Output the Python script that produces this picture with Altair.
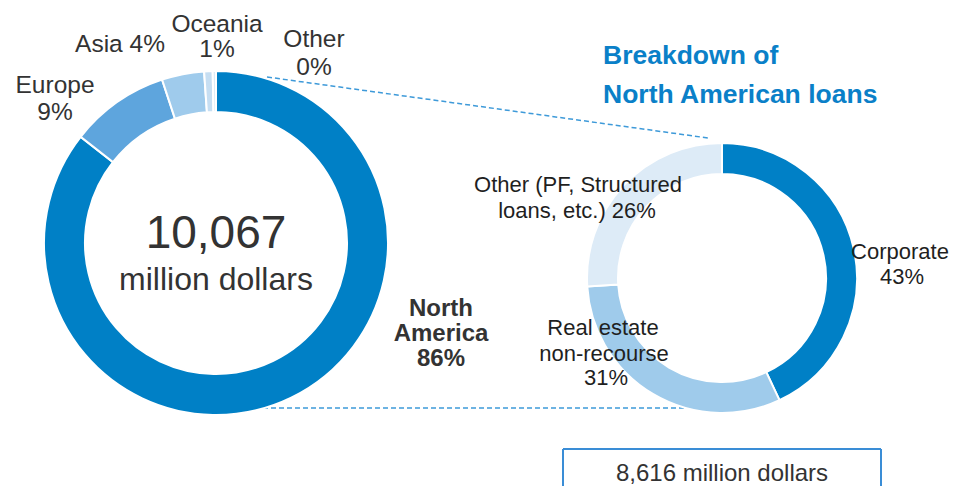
import altair as alt
import pandas as pd

# ---------------- data ----------------
regions = ["North America", "Europe", "Asia", "Oceania", "Other"]
region_values = [8616, 940, 400, 80, 31]          # million dollars, total 10,067
region_colors = ["#0080C6", "#5EA5DD", "#9FCBEC", "#C6DEF2", "#DDEBF7"]

loan_types = ["Corporate", "Real estate non-recourse", "Other (PF, Structured loans, etc.)"]
loan_values = [43, 31, 26]                         # percent of 8,616 million dollars
loan_colors = ["#0080C6", "#9FCBEB", "#DDEBF7"]

# ---------------- layout (chart pixel coords; page = chart + 8) ----------------
OFF = 8
L_CX, L_CY, L_IN, L_OUT = 216 - OFF, 243 - OFF, 131, 172
R_CX, R_CY, R_IN, R_OUT = 722 - OFF, 278 - OFF, 104, 135

left_df = pd.DataFrame({"name": regions, "value": region_values,
                        "color": region_colors, "idx": range(len(regions))})
right_df = pd.DataFrame({"name": loan_types, "value": loan_values,
                         "color": loan_colors, "idx": range(len(loan_types))})

left_donut = alt.Chart(left_df).mark_arc(
    innerRadius=L_IN, outerRadius=L_OUT, stroke="white", strokeWidth=2
).encode(
    theta=alt.Theta("value:Q", stack=True),
    order=alt.Order("idx:Q"),
    color=alt.Color("color:N", scale=None),
    x=alt.value(L_CX), y=alt.value(L_CY),
)

right_donut = alt.Chart(right_df).mark_arc(
    innerRadius=R_IN, outerRadius=R_OUT, stroke="white", strokeWidth=2
).encode(
    theta=alt.Theta("value:Q", stack=True),
    order=alt.Order("idx:Q"),
    color=alt.Color("color:N", scale=None),
    x=alt.value(R_CX), y=alt.value(R_CY),
)

# connector dashed lines
conn_df = pd.DataFrame({
    "x": [267 - OFF, 263 - OFF], "y": [77 - OFF, 408 - OFF],
    "x2": [708 - OFF, 712 - OFF], "y2": [138 - OFF, 408 - OFF],
})
connectors = alt.Chart(conn_df).mark_rule(
    color="#3E9AD9", strokeWidth=1.5, strokeDash=[5, 3]
).encode(
    x=alt.X("x:Q", scale=None), y=alt.Y("y:Q", scale=None),
    x2="x2:Q", y2="y2:Q",
)

# box (three sides, bottom runs off the page)
box_df = pd.DataFrame({
    "x": [563 - OFF, 563 - OFF, 881 - OFF], "y": [449 - OFF, 449 - OFF, 449 - OFF],
    "x2": [563 - OFF, 881 - OFF, 881 - OFF], "y2": [500 - OFF, 449 - OFF, 500 - OFF],
})
box = alt.Chart(box_df).mark_rule(color="#3A8DD6", strokeWidth=2).encode(
    x=alt.X("x:Q", scale=None), y=alt.Y("y:Q", scale=None),
    x2="x2:Q", y2="y2:Q",
)

FONT = "Liberation Sans"


def text_layer(texts, xs, ys, size, color, weight="normal", align="center"):
    df = pd.DataFrame({"t": texts, "x": [v - OFF for v in xs], "y": [v - OFF for v in ys]})
    return alt.Chart(df).mark_text(
        font=FONT, fontSize=size, fontWeight=weight, color=color,
        align=align, baseline="alphabetic",
    ).encode(
        x=alt.X("x:Q", scale=None), y=alt.Y("y:Q", scale=None), text="t:N"
    )


left_labels = text_layer(
    ["Oceania", "1%", "Asia 4%", "Other", "0%", "Europe", "9%"],
    [217, 217, 120, 314, 314, 55, 55],
    [32, 57, 52, 47, 75, 93, 120],
    24.5, "#333333",
)
na_label = text_layer(["North", "America", "86%"], [441, 441, 441], [316, 341, 366],
                      24, "#333333", weight="bold")
total_num = text_layer(["10,067"], [216], [248], 46, "#333333")
total_unit = text_layer(["million dollars"], [216], [290], 32, "#333333")

right_labels = text_layer(
    ["Other (PF, Structured", "loans, etc.) 26%", "Corporate", "43%",
     "Real estate", "non-recourse", "31%"],
    [578, 577, 900, 902, 603, 604, 606],
    [192, 218, 259, 284, 335, 361, 385],
    22, "#1F1F1F",
)
title = text_layer(["Breakdown of", "North American loans"], [603, 603], [64, 103],
                   26.5, "#0A80C8", weight="bold", align="left")
box_text = text_layer(["8,616 million dollars"], [722], [481], 24, "#333333")

chart = alt.layer(
    connectors, left_donut, right_donut, box,
    left_labels, na_label, total_num, total_unit, right_labels, title, box_text,
).resolve_scale(
    theta="independent"
).properties(
    width=941, height=478,
    autosize=alt.AutoSizeParams(type="none"),
    padding=0,
).configure_view(stroke=None)

chart.save("out.html", embed_options={"renderer": "svg", "actions": False})
